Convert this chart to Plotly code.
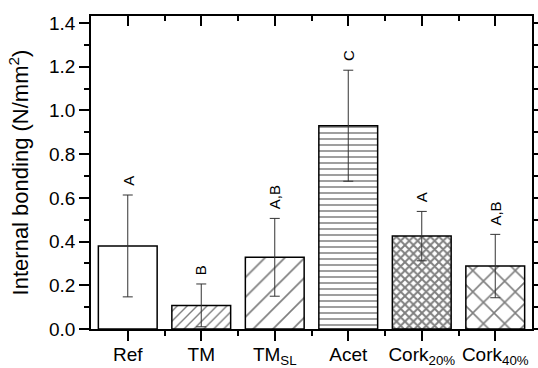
import plotly.graph_objects as go

categories = ["Ref", "TM", "TM<sub>SL</sub>", "Acet", "Cork<sub>20%</sub>", "Cork<sub>40%</sub>"]
means = [0.38, 0.108, 0.328, 0.93, 0.425, 0.288]
errors = [0.233, 0.098, 0.178, 0.254, 0.113, 0.145]
letters = ["A", "B", "A,B", "C", "A", "A,B"]

pattern_shapes = ["", "/", "/", "-", "x", "x"]
pattern_sizes = [8, 7, 14, 6, 6, 15]
pattern_solidity = [0.2, 0.2, 0.12, 0.25, 0.55, 0.2]

xs = list(range(len(categories)))
FONT = "Liberation Sans, Arial, sans-serif"

fig = go.Figure()
fig.add_trace(go.Bar(
    x=xs, y=means, width=0.8,
    marker=dict(color="white", line=dict(color="black", width=1.5),
                pattern=dict(shape=pattern_shapes, size=pattern_sizes,
                             solidity=pattern_solidity, fgcolor="black",
                             bgcolor="white", fillmode="overlay")),
    error_y=dict(type="data", array=errors, visible=True, color="#333333",
                 thickness=1, width=5),
    showlegend=False, hoverinfo="skip",
))
# invisible trace for mirrored axes
fig.add_trace(go.Scatter(x=[0], y=[0], xaxis="x2", yaxis="y2", mode="markers",
                         marker=dict(opacity=0), showlegend=False, hoverinfo="skip"))

for x, m, e, t in zip(xs, means, errors, letters):
    fig.add_annotation(x=x, y=m + e, text=t, showarrow=False, textangle=-90,
                       yanchor="bottom", xanchor="center", yshift=7,
                       font=dict(family=FONT, size=15, color="black"))

YR = [0, 1.432]
XR = [-0.5, 5.5]
halves = [i + 0.5 for i in range(5)]

fig.update_layout(
    width=538, height=368,
    margin=dict(l=91, r=6, t=16, b=39),
    paper_bgcolor="white", plot_bgcolor="white",
    font=dict(family=FONT, size=18, color="black"),
    xaxis=dict(range=XR, tickmode="array", tickvals=xs, ticktext=categories,
               ticks="outside", ticklen=10, tickwidth=1.5, tickcolor="black",
               showline=True, linecolor="black", linewidth=1.5, showgrid=False,
               zeroline=False, tickfont=dict(size=19), tickangle=0,
               automargin=False, ticklabelstandoff=-3,
               minor=dict(tickmode="array", tickvals=halves, ticks="outside",
                          ticklen=5, tickwidth=1.5, tickcolor="black")),
    xaxis2=dict(range=XR, overlaying="x", side="top", tickmode="array",
                tickvals=xs, showticklabels=False, ticks="inside", ticklen=10,
                tickwidth=1.5, tickcolor="black", showline=True,
                linecolor="black", linewidth=1.5, showgrid=False, zeroline=False,
                automargin=False,
                minor=dict(tickmode="array", tickvals=halves, ticks="inside",
                           ticklen=5, tickwidth=1.5, tickcolor="black")),
    yaxis=dict(range=YR, tickmode="linear", tick0=0, dtick=0.2, tickformat=".1f",
               ticks="outside", ticklen=10, tickwidth=1.5, tickcolor="black",
               showline=True, linecolor="black", linewidth=1.5, showgrid=False,
               zeroline=False, tickfont=dict(size=19), automargin=False,
               title=dict(text="Internal bonding (N/mm<sup>2</sup>)",
                          font=dict(family=FONT, size=22), standoff=14),
               minor=dict(tick0=0, dtick=0.1, ticks="outside", ticklen=5,
                          tickwidth=1.5, tickcolor="black")),
    yaxis2=dict(range=YR, overlaying="y", side="right", tickmode="linear",
                tick0=0, dtick=0.2, showticklabels=False, ticks="outside",
                ticklen=10, tickwidth=1.5, tickcolor="black", showline=True,
                linecolor="black", linewidth=1.5, showgrid=False, zeroline=False,
                automargin=False,
                minor=dict(tick0=0, dtick=0.1, ticks="outside", ticklen=5,
                           tickwidth=1.5, tickcolor="black")),
)

fig.write_html("out.html")
